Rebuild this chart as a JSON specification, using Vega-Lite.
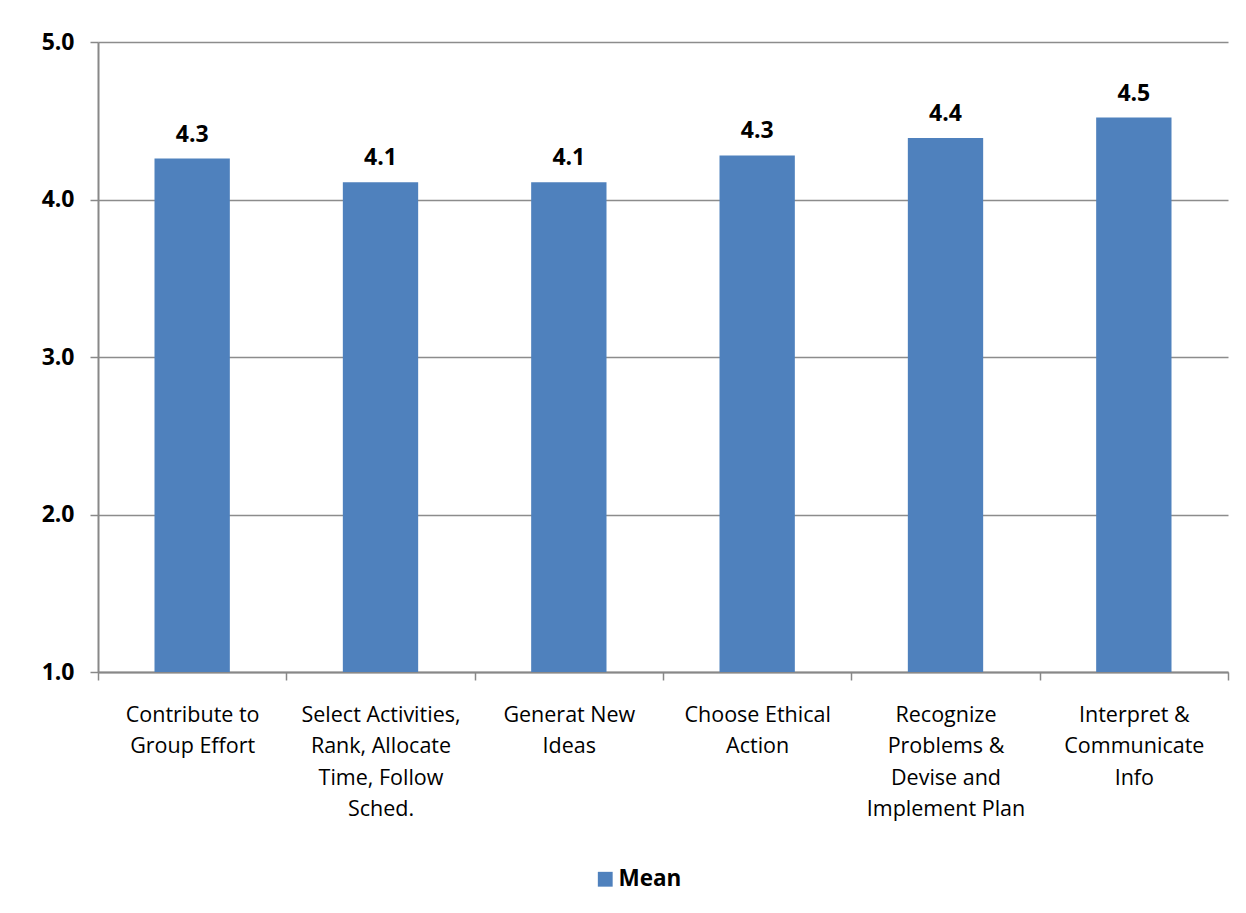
{
  "$schema": "https://vega.github.io/schema/vega-lite/v6.json",
  "width": 1130,
  "height": 630,
  "autosize": {"type": "none"},
  "padding": {"left": 98, "top": 42, "right": 18, "bottom": 241},
  "background": "white",
  "data": {
    "values": [
      {"skill": "Contribute to|Group Effort", "series": "Mean", "value": 4.26},
      {"skill": "Select Activities,|Rank, Allocate|Time, Follow|Sched.", "series": "Mean", "value": 4.11},
      {"skill": "Generat New|Ideas", "series": "Mean", "value": 4.11},
      {"skill": "Choose Ethical|Action", "series": "Mean", "value": 4.28},
      {"skill": "Recognize|Problems &|Devise and|Implement Plan", "series": "Mean", "value": 4.39},
      {"skill": "Interpret &|Communicate|Info", "series": "Mean", "value": 4.52}
    ]
  },
  "encoding": {
    "x": {
      "field": "skill",
      "type": "nominal",
      "sort": null,
      "scale": {"paddingInner": 0, "paddingOuter": 0},
      "axis": {
        "title": null,
        "labelAngle": 0,
        "labelExpr": "split(datum.label, '|')",
        "labelFont": "Open Sans",
        "labelFontSize": 21.5,
        "labelColor": "black",
        "labelLineHeight": 31.5,
        "labelPadding": 24,
        "labelBaseline": "top",
        "labelLimit": 0,
        "tickBand": "extent",
        "tickSize": 8,
        "tickColor": "#888888",
        "tickWidth": 1.5,
        "domainColor": "#888888",
        "domainWidth": 2,
        "grid": false
      }
    }
  },
  "layer": [
    {
      "mark": {"type": "bar", "color": "#4F81BD", "width": {"band": 0.4}},
      "encoding": {
        "y": {
          "field": "value",
          "type": "quantitative",
          "scale": {"domain": [1, 5], "zero": false, "nice": false},
          "axis": {
            "title": null,
            "values": [1, 2, 3, 4, 5],
            "format": ".1f",
            "labelFont": "Open Sans",
            "labelFontSize": 23,
            "labelFontWeight": "bold",
            "labelColor": "black",
            "labelPadding": 16,
            "tickSize": 8,
            "tickColor": "#888888",
            "tickWidth": 1.5,
            "domainColor": "#888888",
            "domainWidth": 2,
            "grid": true,
            "gridColor": "#8c8c8c",
            "gridWidth": 1.5
          }
        },
        "y2": {"datum": 1},
        "color": {
          "field": "series",
          "type": "nominal",
          "scale": {"range": ["#4F81BD"]},
          "legend": {
            "title": null,
            "orient": "none",
            "legendX": 496,
            "legendY": 826,
            "symbolType": "square",
            "symbolSize": 220,
            "symbolStrokeWidth": 0,
            "symbolOpacity": 1,
            "labelFont": "Open Sans",
            "labelFontSize": 22.5,
            "labelFontWeight": "bold",
            "labelColor": "black",
            "labelOffset": 2
          }
        }
      }
    },
    {
      "mark": {
        "type": "text",
        "baseline": "bottom",
        "dy": -12,
        "font": "Open Sans",
        "fontSize": 23,
        "fontWeight": "bold",
        "color": "black"
      },
      "encoding": {
        "y": {"field": "value", "type": "quantitative"},
        "text": {"field": "value", "type": "quantitative", "format": ".1f"}
      }
    }
  ],
  "config": {
    "view": {"stroke": null}
  }
}
